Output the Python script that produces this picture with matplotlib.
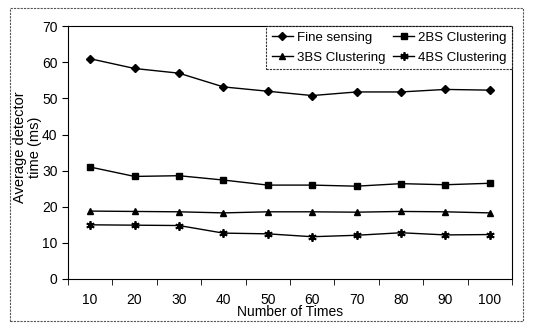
import numpy as np
import matplotlib.pyplot as plt
from matplotlib.patches import Rectangle

plt.rcParams['font.family'] = ['Liberation Sans', 'DejaVu Sans']

times = ['10', '20', '30', '40', '50', '60', '70', '80', '90', '100']
fine = [61.0, 58.3, 57.0, 53.2, 52.0, 50.8, 51.8, 51.8, 52.5, 52.3]
bs2 = [31.0, 28.4, 28.6, 27.4, 26.0, 26.0, 25.7, 26.4, 26.1, 26.5]
bs3 = [18.8, 18.7, 18.6, 18.3, 18.6, 18.6, 18.5, 18.7, 18.6, 18.3]
bs4 = [15.0, 14.9, 14.8, 12.7, 12.5, 11.7, 12.1, 12.8, 12.2, 12.3]

fig = plt.figure(figsize=(5.35, 3.24), dpi=100)
fig.patches.append(Rectangle((0.019, 0.008), 0.958, 0.966, transform=fig.transFigure,
                             fill=False, ec='#555555', lw=0.8, ls=(0, (2, 1))))
ax = fig.add_axes([0.127, 0.139, 0.83, 0.78])

x = np.arange(len(times))
l1, = ax.plot(x, fine, color='black', lw=1, marker='D', ms=4, label='Fine sensing')
l2, = ax.plot(x, bs2, color='black', lw=1, marker='s', ms=5, label='2BS Clustering')
l3, = ax.plot(x, bs3, color='black', lw=1, marker='^', ms=5, label='3BS Clustering')
l4, = ax.plot(x, bs4, color='black', lw=1, marker=(6, 2, 0), ms=6, mew=1.3, label='4BS Clustering')

ax.set_xlim(-0.5, len(times) - 0.5)
ax.set_ylim(0, 70)
ax.set_yticks(range(0, 71, 10))
ax.set_xticks(x)
ax.set_xticklabels(times)
ax.set_xticks(np.arange(-0.5, len(times), 1), minor=True)
ax.tick_params(axis='x', which='major', length=0, pad=10, labelsize=10)
ax.tick_params(axis='x', which='minor', length=4, direction='out')
ax.tick_params(axis='y', length=4, direction='out', labelsize=10)

ax.spines['top'].set_linestyle((0, (1, 1)))
ax.spines['right'].set_linestyle((0, (1, 1)))
ax.spines['top'].set_linewidth(0.8)
ax.spines['right'].set_linewidth(0.8)

ax.set_xlabel('Number of Times', fontsize=10, labelpad=-1)
ax.set_ylabel('Average detector\ntime (ms)', fontsize=10.5, linespacing=1.1)
ax.yaxis.set_label_coords(-0.058, 0.52)

leg = ax.legend([l1, l3, l2, l4], ['Fine sensing', '3BS Clustering', '2BS Clustering', '4BS Clustering'],
                ncol=2, loc='upper right', fontsize=9.5, frameon=True, fancybox=False,
                borderaxespad=0, handlelength=1.6, columnspacing=0.6, handletextpad=0.3,
                borderpad=0.4, labelspacing=0.6)
leg.get_frame().set_edgecolor('black')
leg.get_frame().set_linestyle((0, (2, 1)))
leg.get_frame().set_linewidth(0.8)

fig.savefig('out.png', dpi=100)
